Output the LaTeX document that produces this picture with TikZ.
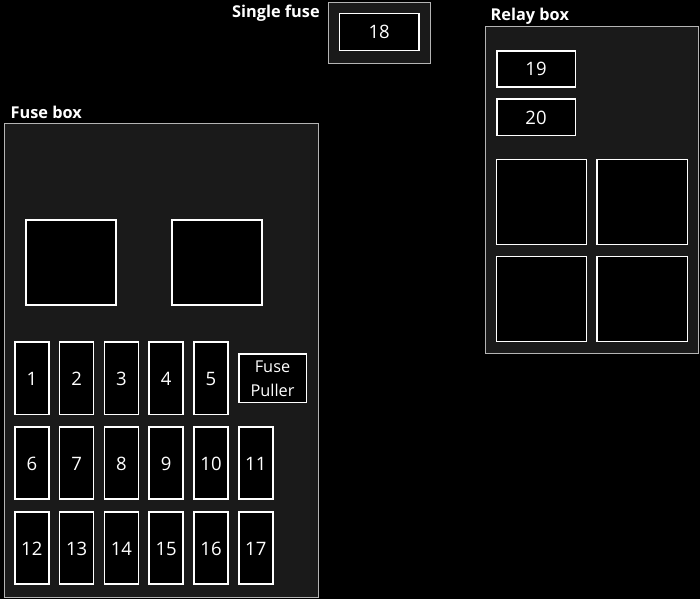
\documentclass[tikz,border=0pt]{standalone}
\usepackage{fontspec}
\setmainfont{Open Sans}
\definecolor{panel}{HTML}{1A1A1A}
\definecolor{rim}{HTML}{B4B4B4}
\begin{document}
\begin{tikzpicture}[x=1pt,y=-1pt,
  panelbox/.style={draw=rim,line width=0.8pt,fill=panel},
  slot/.style={draw=white,line width=1.6pt,fill=black},
  numtxt/.style={text=white,font=\fontsize{18.5}{20}\selectfont,anchor=base,inner sep=0pt},
  headtxt/.style={text=white,font=\bfseries\fontsize{16.3}{18}\selectfont,anchor=base west,inner sep=0pt}]
\fill[black] (0,0) rectangle (700,599);
\useasboundingbox (0,0) rectangle (700,599);
% panels
\draw[panelbox] (4,123.5) rectangle (318,597);
\draw[panelbox] (328.5,2) rectangle (430,63);
\draw[panelbox] (485.5,26) rectangle (698,353.5);
\node[headtxt] (fbl) at (10.5,118.5) {Fuse box};
\node[headtxt] (sfl) at (232,17.3) {Single fuse};
\node[headtxt] (rbl) at (490.5,20.8) {Relay box};
% single fuse
\draw[slot] (339.5,13.5) rectangle (419,50.5);
\node[numtxt] (f18) at (379.2,39) {18};
% relay box
\draw[slot] (496.8,50.8) rectangle (575.3,87.3);
\node[numtxt] (f19) at (536,76) {19};
\draw[slot] (496.8,98.8) rectangle (575.3,135.3);
\node[numtxt] (f20) at (536,124) {20};
\draw[slot] (496.5,159.5) rectangle (586.3,244.3);
\draw[slot] (597.2,159.5) rectangle (687.3,244.3);
\draw[slot] (496.5,256.5) rectangle (586.3,341.3);
\draw[slot] (597.2,256.5) rectangle (687.3,341.3);
% fuse box relays
\draw[slot] (26,220) rectangle (116,305);
\draw[slot] (172,220) rectangle (262,305);
% fuses
\foreach \i/\c/\r in {1/0/0,2/1/0,3/2/0,4/3/0,5/4/0,
                     6/0/1,7/1/1,8/2/1,9/3/1,10/4/1,11/5/1,
                     12/0/2,13/1/2,14/2/2,15/3/2,16/4/2,17/5/2}{
  \pgfmathsetmacro{\xa}{14.8+44.8*\c}
  \pgfmathsetmacro{\ya}{342+84.9*\r}
  \draw[slot] (\xa,\ya) rectangle ++(34,72.3);
  \node[numtxt] (f\i) at ({\xa+17},{\ya+43.5}) {\i};
}
\draw[slot] (238.8,354) rectangle (306.3,402.3);
\node[text=white,font=\fontsize{16.3}{24}\selectfont,align=center] (fp) at (272.5,378.5) {Fuse\\Puller};
\end{tikzpicture}
\end{document}
